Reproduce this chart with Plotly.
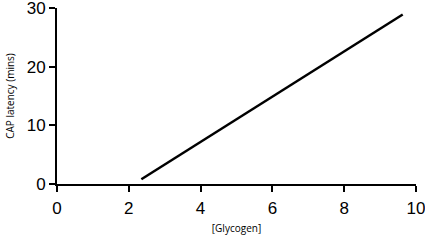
import plotly.graph_objects as go

glycogen = [2.35, 9.63]
latency = [0.8, 28.9]
x_ticks = [0, 2, 4, 6, 8, 10]
y_ticks = [0, 10, 20, 30]

fig = go.Figure()
fig.add_trace(go.Scatter(x=glycogen, y=latency, mode="lines",
                         line=dict(color="black", width=2.5), showlegend=False))

axis_common = dict(showline=True, linecolor="black", linewidth=2, ticks="outside",
                   ticklen=6, tickwidth=2, tickcolor="black", showgrid=False,
                   zeroline=False, ticklabeloverflow="allow", automargin=False,
                   tickfont=dict(family="Liberation Sans, Arial", size=17, color="black"))

fig.update_layout(
    width=425, height=241,
    margin=dict(l=57, r=9, t=8, b=57),
    plot_bgcolor="white", paper_bgcolor="white",
    xaxis=dict(range=[0, 10], tickvals=x_ticks, ticklabelstandoff=2,
               title=dict(text="[Glycogen]", font=dict(family="Open Sans", size=10, color="black"), standoff=8),
               **axis_common),
    yaxis=dict(range=[0, 30], tickvals=y_ticks,
               title=dict(text="CAP latency (mins)", font=dict(family="Open Sans", size=10, color="black"), standoff=10),
               **axis_common),
)

fig.write_html("out.html")
